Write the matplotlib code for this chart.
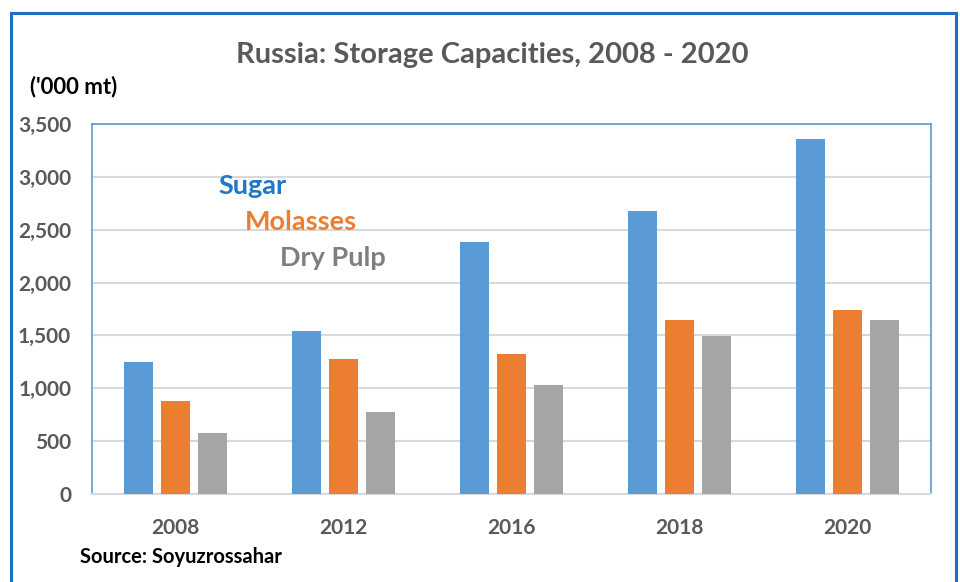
import matplotlib
matplotlib.use('Agg')
import matplotlib.pyplot as plt
import matplotlib.patches as mpatches
import numpy as np

years = ['2008', '2012', '2016', '2018', '2020']
sugar = [1250, 1540, 2380, 2680, 3360]
molasses = [880, 1280, 1320, 1650, 1740]
dry_pulp = [580, 775, 1030, 1490, 1650]

series = [('Sugar', sugar, '#5B9BD5'),
          ('Molasses', molasses, '#ED7D31'),
          ('Dry Pulp', dry_pulp, '#A5A5A5')]

FONT = 'Lato'
GREY_TXT = '#595959'

W, H = 960, 582
fig = plt.figure(figsize=(W / 100, H / 100), dpi=100)
fig.patch.set_facecolor('white')

# outer blue frame of the chart object
fig.patches.append(mpatches.Rectangle((11 / W, -0.05), (956 - 11) / W, 1.05 - 13 / H,
                                      transform=fig.transFigure, fill=False,
                                      edgecolor='#1F6FC5', linewidth=2.2))

ax = fig.add_axes([92 / W, 1 - 494 / H, (931 - 92) / W, (494 - 124) / H])

x = np.arange(len(years))
bw = 29 / 168
step = 37 / 168
for k, (name, vals, col) in enumerate(series):
    ax.bar(x + (k - 1) * step, vals, width=bw, color=col, zorder=3)

ax.set_xlim(-0.5, len(years) - 0.5)
ax.set_ylim(0, 3500)
ax.set_yticks(np.arange(0, 3501, 500))
ax.set_yticklabels([f'{v:,}' for v in range(0, 3501, 500)])
ax.set_xticks(x)
ax.set_xticklabels(years)
ax.grid(axis='y', color='#D9D9D9', linewidth=1.5, zorder=0)
ax.tick_params(axis='both', length=0, labelsize=15, labelcolor=GREY_TXT)
ax.tick_params(axis='y', pad=15)
ax.tick_params(axis='x', pad=17)
for lab in ax.get_xticklabels() + ax.get_yticklabels():
    lab.set_fontweight('bold')
    lab.set_family(FONT)
for sp in ax.spines.values():
    sp.set_edgecolor('#5B9BD5')
    sp.set_linewidth(1.2)
ax.spines['bottom'].set_edgecolor('#D9D9D9')
ax.spines['bottom'].set_linewidth(1.5)

# series labels used in place of a legend
label_cols = ['#1F77C8', '#ED7D31', '#7F7F7F']
label_pos = [(218, 186), (245, 222), (280, 258)]
for (name, _, _), c, (px, py) in zip(series, label_cols, label_pos):
    fig.text(px / W, 1 - py / H, name, color=c, fontsize=19.5, fontweight='bold',
             family=FONT, ha='left', va='center')

fig.text(492 / W, 1 - 55 / H, 'Russia: Storage Capacities, 2008 - 2020',
         ha='center', va='center', fontsize=21, fontweight='bold',
         color=GREY_TXT, family=FONT)
fig.text(30 / W, 1 - 87 / H, "('000 mt)", ha='left', va='center',
         fontsize=16, fontweight='bold', color='black', family=FONT)
fig.text(80 / W, 1 - 557 / H, 'Source: Soyuzrossahar', ha='left', va='center',
         fontsize=14.5, fontweight='bold', color='black', family=FONT)

fig.savefig('out.png', dpi=100)
